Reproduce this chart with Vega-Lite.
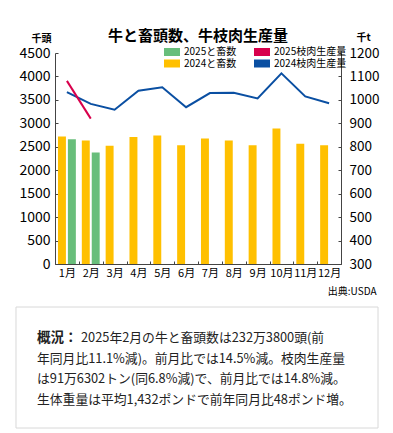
{
  "$schema": "https://vega.github.io/schema/vega-lite/v6.json",
  "padding": {"left": 15, "top": 29, "right": 5, "bottom": 5},
  "background": "white",
  "config": {
    "font": "Noto Sans CJK JP",
    "view": {"stroke": null},
    "axis": {"labelColor": "#000", "domainColor": "#444", "tickColor": "#444", "titleColor": "#000", "grid": false}
  },
  "datasets": {
    "cattle": [
      {"month": "1月", "year": "2024", "series": "2024と畜数", "value": 2720},
      {"month": "1月", "year": "2025", "series": "2025と畜数", "value": 2663},
      {"month": "2月", "year": "2024", "series": "2024と畜数", "value": 2635},
      {"month": "2月", "year": "2025", "series": "2025と畜数", "value": 2380},
      {"month": "3月", "year": "2024", "series": "2024と畜数", "value": 2521},
      {"month": "4月", "year": "2024", "series": "2024と畜数", "value": 2706},
      {"month": "5月", "year": "2024", "series": "2024と畜数", "value": 2741},
      {"month": "6月", "year": "2024", "series": "2024と畜数", "value": 2535},
      {"month": "7月", "year": "2024", "series": "2024と畜数", "value": 2678},
      {"month": "8月", "year": "2024", "series": "2024と畜数", "value": 2635},
      {"month": "9月", "year": "2024", "series": "2024と畜数", "value": 2535},
      {"month": "10月", "year": "2024", "series": "2024と畜数", "value": 2891},
      {"month": "11月", "year": "2024", "series": "2024と畜数", "value": 2564},
      {"month": "12月", "year": "2024", "series": "2024と畜数", "value": 2535}
    ],
    "beef": [
      {"month": "1月", "series": "2024枝肉生産量", "value": 1033},
      {"month": "2月", "series": "2024枝肉生産量", "value": 983},
      {"month": "3月", "series": "2024枝肉生産量", "value": 958},
      {"month": "4月", "series": "2024枝肉生産量", "value": 1039},
      {"month": "5月", "series": "2024枝肉生産量", "value": 1054},
      {"month": "6月", "series": "2024枝肉生産量", "value": 969},
      {"month": "7月", "series": "2024枝肉生産量", "value": 1029},
      {"month": "8月", "series": "2024枝肉生産量", "value": 1030},
      {"month": "9月", "series": "2024枝肉生産量", "value": 1006},
      {"month": "10月", "series": "2024枝肉生産量", "value": 1113},
      {"month": "11月", "series": "2024枝肉生産量", "value": 1015},
      {"month": "12月", "series": "2024枝肉生産量", "value": 986},
      {"month": "1月", "series": "2025枝肉生産量", "value": 1081},
      {"month": "2月", "series": "2025枝肉生産量", "value": 920}
    ],
    "notes": [
      {"line": 1, "text": "2025年2月の牛と畜頭数は232万3800頭(前"},
      {"line": 2, "text": "年同月比11.1%減)。前月比では14.5%減。枝肉生産量"},
      {"line": 3, "text": "は91万6302トン(同6.8%減)で、前月比では14.8%減。"},
      {"line": 4, "text": "生体重量は平均1,432ポンドで前年同月比48ポンド増。"}
    ],
    "label": [{"line": 1, "text": "概況："}],
    "box": [{"part": "box"}]
  },
  "center": false,
  "spacing": 10,
  "vconcat": [
    {
      "width": 286,
      "height": 211,
      "title": {"text": "牛と畜頭数、牛枝肉生産量", "fontSize": 15, "fontWeight": "bold", "anchor": "middle", "color": "#000", "offset": -12},
      "layer": [
        {
          "data": {"name": "cattle"},
          "mark": {"type": "bar"},
          "encoding": {
            "x": {
              "field": "month", "type": "nominal",
              "sort": ["1月","2月","3月","4月","5月","6月","7月","8月","9月","10月","11月","12月"],
              "scale": {"paddingInner": 0, "paddingOuter": 0},
              "axis": {
                "title": "出典:USDA", "titleFontSize": 10, "titleFontWeight": "normal", "titleAnchor": "end",
                "titleAlign": "right", "titleX": 321, "titleY": 27, "titleBaseline": "middle",
                "labelAngle": 0, "labelFontSize": 11, "labelOverlap": false, "labelPadding": 6,
                "tickBand": "extent", "tickSize": -3
              }
            },
            "xOffset": {"field": "year", "type": "nominal", "scale": {"domain": ["2024", "2025"], "paddingInner": 0.2, "paddingOuter": 0.3}},
            "y": {
              "field": "value", "type": "quantitative",
              "scale": {"domain": [0, 4500], "nice": false},
              "axis": {
                "values": [0,500,1000,1500,2000,2500,3000,3500,4000,4500], "format": "d",
                "title": "千頭", "titleAngle": 0, "titleFontSize": 10, "titleFontWeight": "bold",
                "titleX": -14, "titleY": -15, "titleAlign": "center", "titleBaseline": "middle",
                "labelFontSize": 14, "labelPadding": 8, "tickSize": -3
              }
            },
            "color": {
              "field": "series", "type": "nominal",
              "scale": {
                "domain": ["2025と畜数", "2024と畜数", "2025枝肉生産量", "2024枝肉生産量"],
                "range": ["#68BE7B", "#FFC000", "#D8004C", "#0A4FA2"]
              },
              "legend": {
                "orient": "none", "legendX": 112, "legendY": -6, "columns": 2, "title": null,
                "labelFontSize": 10, "labelColor": "#000", "symbolType": "M-2,-1H2V1H-2Z", "symbolSize": 64,
                "symbolStrokeWidth": 0, "columnPadding": 17, "rowPadding": 1.5, "labelOffset": 7
              }
            }
          }
        },
        {
          "data": {"name": "beef"},
          "mark": {"type": "line", "strokeWidth": 2},
          "encoding": {
            "x": {"field": "month", "type": "nominal", "sort": ["1月","2月","3月","4月","5月","6月","7月","8月","9月","10月","11月","12月"]},
            "y": {
              "field": "value", "type": "quantitative",
              "scale": {"domain": [300, 1200], "nice": false},
              "axis": {
                "orient": "right",
                "values": [300,400,500,600,700,800,900,1000,1100,1200], "format": "d",
                "title": "千t", "titleAngle": 0, "titleFontSize": 10, "titleFontWeight": "bold",
                "titleX": 22, "titleY": -16, "titleAlign": "center", "titleBaseline": "middle",
                "labelFontSize": 13.5, "labelPadding": 11, "tickSize": -3
              }
            },
            "color": {"field": "series", "type": "nominal", "legend": null}
          }
        }
      ],
      "resolve": {"scale": {"y": "independent"}}
    },
    {
      "width": 286,
      "height": 121,
      "layer": [
        {
          "data": {"name": "box"},
          "mark": {"type": "rect", "fill": "#000", "opacity": 0.12, "xOffset": 4, "yOffset": 4},
          "encoding": {
            "x": {"datum": -13.64, "type": "quantitative", "scale": {"domain": [0, 100], "zero": false, "nice": false}, "axis": null},
            "x2": {"datum": 112.94},
            "y": {"datum": -0.5, "type": "quantitative", "scale": {"domain": [-0.5, 5.354], "reverse": true, "nice": false, "zero": false}, "axis": null},
            "y2": {"datum": 5.354}
          }
        },
        {
          "data": {"name": "box"},
          "mark": {"type": "rect", "fill": "#000", "opacity": 0.12, "xOffset": 2, "yOffset": 2},
          "encoding": {
            "x": {"datum": -13.64, "type": "quantitative"},
            "x2": {"datum": 112.94},
            "y": {"datum": -0.5, "type": "quantitative"},
            "y2": {"datum": 5.354}
          }
        },
        {
          "data": {"name": "box"},
          "mark": {"type": "rect", "fill": "white", "stroke": "#d8d8d8", "strokeWidth": 1},
          "encoding": {
            "x": {"datum": -13.64, "type": "quantitative"},
            "x2": {"datum": 112.94},
            "y": {"datum": -0.5, "type": "quantitative"},
            "y2": {"datum": 5.354}
          }
        },
        {
          "data": {"name": "label"},
          "mark": {"type": "text", "align": "left", "baseline": "middle", "fontSize": 13.5, "fontWeight": "bold", "color": "#222"},
          "encoding": {
            "x": {"datum": -6.29, "type": "quantitative"},
            "y": {"field": "line", "type": "quantitative"},
            "text": {"field": "text"}
          }
        },
        {
          "data": {"name": "notes"},
          "transform": [{"filter": "datum.line == 1"}],
          "mark": {"type": "text", "align": "left", "baseline": "middle", "fontSize": 12.8, "color": "#222", "dx": 44},
          "encoding": {
            "x": {"datum": -6.29, "type": "quantitative"},
            "y": {"field": "line", "type": "quantitative"},
            "text": {"field": "text"}
          }
        },
        {
          "data": {"name": "notes"},
          "transform": [{"filter": "datum.line > 1"}],
          "mark": {"type": "text", "align": "left", "baseline": "middle", "fontSize": 12.8, "color": "#222"},
          "encoding": {
            "x": {"datum": -6.29, "type": "quantitative"},
            "y": {"field": "line", "type": "quantitative"},
            "text": {"field": "text"}
          }
        }
      ]
    }
  ]
}
